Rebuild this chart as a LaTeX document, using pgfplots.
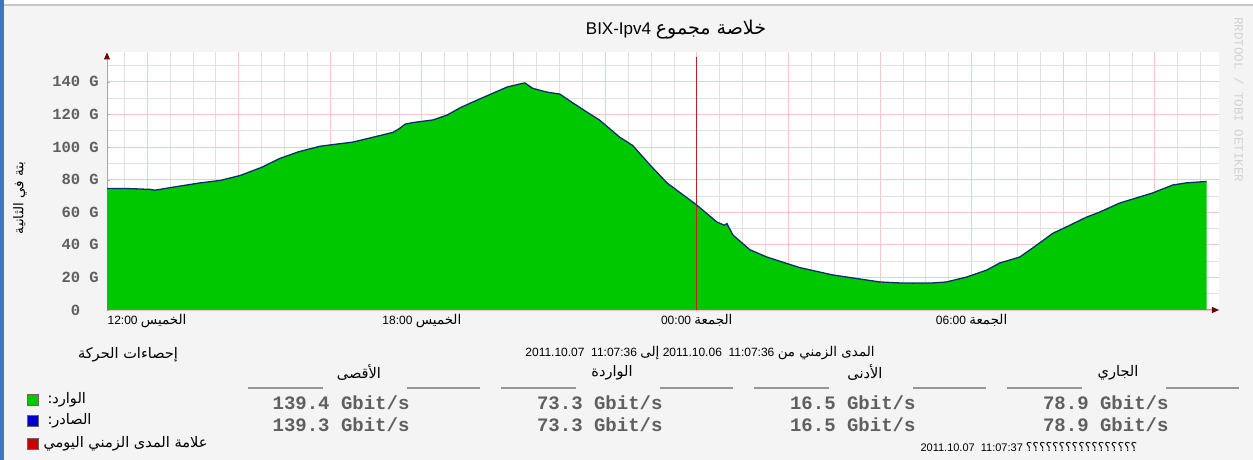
\documentclass[border=0pt]{standalone}
\usepackage{fontspec}
\setmainfont{Liberation Sans}
\newfontfamily\arabicfont[Script=Arabic,Scale=1.12]{DejaVu Sans}
\newfontfamily\monofont{Liberation Mono}
\TeXXeTstate=1
\usepackage{pgfplots}
\pgfplotsset{compat=1.18}
\usepackage{pgfplotstable}
\usetikzlibrary{arrows.meta}

\definecolor{rrdgreen}{RGB}{0,200,0}
\definecolor{rrdblue}{RGB}{16,44,110}
\definecolor{rrdred}{RGB}{196,30,30}
\definecolor{bgcol}{RGB}{244,244,244}
\definecolor{mgrid}{RGB}{250,200,200}
\definecolor{ngrid}{RGB}{224,224,224}
\definecolor{framebl}{RGB}{70,114,196}
\definecolor{tickgray}{RGB}{95,95,95}
\definecolor{dashgray}{RGB}{150,150,150}

\newcommand{\ar}[1]{{\arabicfont\beginR #1\endR}}

% hours since Thursday 00:00, incoming / outgoing in Gbit/s
\pgfplotstableread{
h     in     out
11.13 74.5   74.5
11.60 74.5   74.5
12.07 74.0   74.0
12.17 73.5   73.5
12.60 75.5   75.5
13.16 78.0   78.0
13.60 79.5   79.5
14.03 82.5   82.5
14.50 87.5   87.5
14.90 93.0   93.0
15.30 97.0   97.0
15.78 100.5  100.5
16.20 102.0  102.0
16.49 103.0  103.0
17.08 107.0  107.0
17.37 109.0  109.0
17.52 111.5  111.5
17.63 114.0  114.0
17.80 115.0  115.0
18.24 116.6  116.6
18.55 119.6  119.6
18.83 124.0  124.0
19.11 127.6  127.6
19.55 133.0  133.0
19.86 136.8  136.8
20.14 138.7  138.7
20.25 139.4  139.3
20.42 136.0  136.0
20.73 133.7  133.7
21.01 132.5  132.5
21.30 127.0  127.0
21.60 121.5  121.5
21.88 116.5  116.5
22.32 106.0  106.0
22.60 101.0  101.0
22.98 89.0   89.0
23.35 78.0   78.0
24.00 64.4   64.4
24.44 54.0   54.0
24.60 52.0   52.0
24.66 53.0   53.0
24.79 46.0   46.0
25.16 37.0   37.0
25.53 32.5   32.5
26.25 26.0   26.0
26.97 21.5   21.5
27.71 18.4   18.4
28.00 17.2   17.2
28.43 16.6   16.6
28.71 16.5   16.5
29.15 16.6   16.6
29.45 17.2   17.2
29.89 20.2   20.2
30.33 24.5   24.5
30.61 28.8   28.8
31.05 32.5   32.5
31.33 38.0   38.0
31.77 47.0   47.0
32.07 51.0   51.0
32.51 57.0   57.0
32.79 60.0   60.0
33.23 65.6   65.6
33.67 69.4   69.4
33.95 71.8   71.8
34.39 76.7   76.7
34.69 78.0   78.0
35.13 78.9   78.9
}\traffic

\begin{document}
\begin{tikzpicture}[x=1pt,y=1pt]
\path[use as bounding box, fill=bgcol] (0,0) rectangle (1253,460);
\fill[white] (0,456) rectangle (1253,460);
\draw[gray!45, line width=2pt] (0,455) -- (1253,455);
\fill[framebl] (0,0) rectangle (4,460);

\begin{axis}[
    at={(107pt,150pt)}, anchor=south west,
    scale only axis, width=1112pt, height=257.5pt,
    xmin=11.127, xmax=35.4, ymin=0, ymax=158,
    axis background/.style={fill=white},
    axis x line=bottom, axis y line=left,
    axis line style={draw=gray!70, line width=1pt},
    x axis line style={-{Triangle[length=7pt,width=6pt,color=red!45!black]}},
    y axis line style={-{Triangle[length=7pt,width=6pt,color=red!45!black]}},
    xtick={12,14,...,34},
    xticklabels={{12:00 \ar{الخميس}},,,{18:00 \ar{الخميس}},,,{00:00 \ar{الجمعة}},,,{06:00 \ar{الجمعة}},,},
    minor xtick={11.5,12.5,...,34.5,13,15,...,35},
    ytick={0,20,...,140},
    yticklabels={0\hphantom{0G},20 G,40 G,60 G,80 G,100 G,120 G,140 G},
    minor ytick={10,30,...,150},
    grid=both,
    major grid style={mgrid, line width=0.8pt},
    minor grid style={ngrid, line width=0.6pt},
    tick style={gray!60}, tick align=inside,
    major tick length=3pt, minor tick length=0pt,
    xticklabel style={font=\fontsize{12}{14}\selectfont, inner sep=0pt, anchor=north, yshift=-4pt},
    yticklabel style={font=\monofont\bfseries\fontsize{15.5}{16}\selectfont, text=tickgray, inner sep=0pt, anchor=east, xshift=-8pt},
]
\addplot[fill=rrdgreen, draw=none] table[x=h, y=in] {\traffic} \closedcycle;
\addplot[rrdred, line width=1.5pt] coordinates {(24,0) (24,155)};
\addplot[rrdblue, line width=1.3pt] table[x=h, y=out] {\traffic};
\end{axis}

% titles
\node[font=\fontsize{17}{20}\selectfont] at (676,430) {BIX-Ipv4 \ar{خلاصة مجموع}};
\node[rotate=90, font=\fontsize{12}{14}\selectfont] at (20,262) {\ar{بتة في الثانية}};
\node[rotate=-90, font=\monofont\fontsize{12.5}{14}\selectfont, text=gray!35] at (1239,360) {RRDTOOL / TOBI OETIKER};

% statistics block
\node[font=\fontsize{13}{15}\selectfont] at (128,105) {\ar{إحصاءات الحركة}};
\node[font=\fontsize{12}{14}\selectfont] at (700,107) {2011.10.07\ \ 11:07:36 \ar{إلى} 2011.10.06\ \ 11:07:36 \ar{المدى الزمني من}};

\foreach \k/\hd/\va/\vb in {0/{الأقصى}/139.4/139.3, 1/{الواردة}/73.3/73.3, 2/{الأدنى}/16.5/16.5, 3/{الجاري}/78.9/78.9} {
    \pgfmathsetmacro\xo{248+253*\k}
    \draw[dashgray, line width=2pt] (\xo,72) -- (\xo+75,72);
    \draw[dashgray, line width=2pt] (\xo+159,72) -- (\xo+232,72);
    \node[font=\fontsize{13}{15}\selectfont] at (\xo+111,87) {\ar{\hd}};
    \node[anchor=east, font=\monofont\bfseries\fontsize{19}{20}\selectfont, text=tickgray] at (\xo+165,57) {\va\ Gbit/s};
    \node[anchor=east, font=\monofont\bfseries\fontsize{19}{20}\selectfont, text=tickgray] at (\xo+165,35) {\vb\ Gbit/s};
}

\node[anchor=west, font=\fontsize{11}{13}\selectfont] at (917,13) {2011.10.07\ \ 11:07:37 \ar{؟؟؟؟؟؟؟؟؟؟؟؟؟؟؟؟؟}};

% legend
\node[draw=black!60, fill=rrdgreen, minimum size=11pt, inner sep=0pt] at (32.5,60) {};
\node[draw=black!60, fill=blue!80!black, minimum size=11pt, inner sep=0pt] at (32.5,39) {};
\node[draw=black!60, fill=red!80!black, minimum size=11pt, inner sep=0pt] at (32.5,16) {};
\node[anchor=west, font=\fontsize{13}{15}\selectfont] at (44,60) {\ar{الوارد:}};
\node[anchor=west, font=\fontsize{13}{15}\selectfont] at (44,39) {\ar{الصادر:}};
\node[anchor=west, font=\fontsize{13}{15}\selectfont] at (40,16) {\ar{علامة المدى الزمني اليومي}};
\end{tikzpicture}
\end{document}
